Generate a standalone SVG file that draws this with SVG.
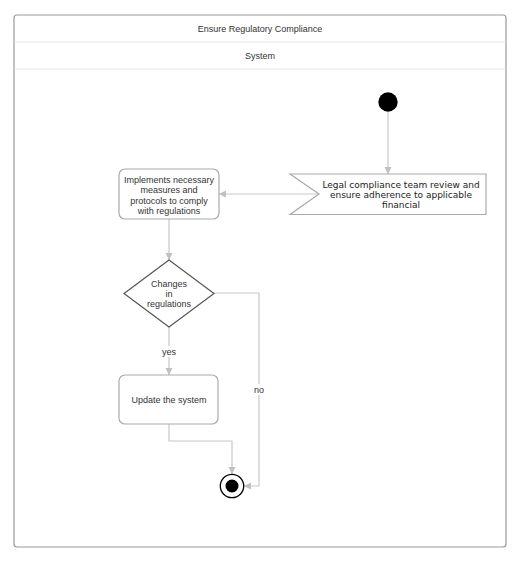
<svg xmlns="http://www.w3.org/2000/svg" width="523" height="567" viewBox="0 0 523 567">
<style>
.t{font-family:"Liberation Sans",Arial,sans-serif;font-size:9px;fill:#333;text-anchor:middle}
.d{font-family:"DejaVu Sans",Verdana,sans-serif;font-size:9px;fill:#222;text-anchor:middle}
.box{fill:#fff;stroke:#aaa;stroke-width:1.2}
.ln{fill:none;stroke:#c8c8c8;stroke-width:1.2}
</style>
<defs>
<marker id="ah" markerWidth="8" markerHeight="8" refX="7" refY="4" orient="auto" markerUnits="userSpaceOnUse">
<path d="M0,0.5 L7,4 L0,7.5 Z" fill="#c0c0c0"/>
</marker>
</defs>
<rect width="523" height="567" fill="#fff"/>
<g id="frame">
<rect x="14" y="15" width="492" height="532" rx="3" fill="#fff" stroke="#999" stroke-width="1.2"/>
<line x1="14" y1="42" x2="506" y2="42" stroke="#e6e6e6"/>
<line x1="14" y1="69" x2="506" y2="69" stroke="#e6e6e6"/>
<text class="t" x="260" y="32">Ensure Regulatory Compliance</text>
<text class="t" x="260" y="59">System</text>
</g>
<g id="connectors">
<line class="ln" x1="388" y1="112" x2="388" y2="174" marker-end="url(#ah)"/>
<line class="ln" x1="319" y1="194" x2="219" y2="194" marker-end="url(#ah)"/>
<line class="ln" x1="169" y1="219" x2="169" y2="260" marker-end="url(#ah)"/>
<line class="ln" x1="169" y1="327" x2="169" y2="375" marker-end="url(#ah)"/>
<polyline class="ln" points="169,424 169,441 232,441 232,474" marker-end="url(#ah)"/>
<polyline class="ln" points="214,293 259,293 259,486 244,486" marker-end="url(#ah)"/>
<rect x="160" y="346" width="18" height="11" fill="#fff"/>
<text class="t" x="169" y="355">yes</text>
<rect x="252" y="384" width="14" height="11" fill="#fff"/>
<text class="t" x="259" y="393">no</text>
</g>
<g id="start">
<circle cx="388" cy="102" r="9.7" fill="#000"/>
</g>
<g id="review">
<polygon points="290,174 486,174 486,214.5 290,214.5 319,194" fill="#fff" stroke="#aaa" stroke-width="1.2"/>
<text class="d" x="401" y="188">Legal compliance team review and</text>
<text class="d" x="401" y="198">ensure adherence to applicable</text>
<text class="d" x="401" y="208">financial</text>
</g>
<g id="implement">
<rect class="box" x="119" y="169" width="100" height="50" rx="6"/>
<text class="t" x="169" y="182.5">Implements necessary</text>
<text class="t" x="169" y="193">measures and</text>
<text class="t" x="169" y="203.5">protocols to comply</text>
<text class="t" x="169" y="214">with regulations</text>
</g>
<g id="decision">
<polygon points="169,260 214,293.5 169,327 124,293.5" fill="#fff" stroke="#555" stroke-width="1.2"/>
<text class="t" x="169" y="286.5">Changes</text>
<text class="t" x="169" y="296.5">in</text>
<text class="t" x="169" y="306.5">regulations</text>
</g>
<g id="update">
<rect class="box" x="119" y="375" width="99" height="49" rx="6"/>
<text class="t" x="169" y="402.5">Update the system</text>
</g>
<g id="end">
<circle cx="232" cy="486" r="11.7" fill="#fff" stroke="#000" stroke-width="1.3"/>
<circle cx="232" cy="486" r="6.5" fill="#000"/>
</g>
</svg>
